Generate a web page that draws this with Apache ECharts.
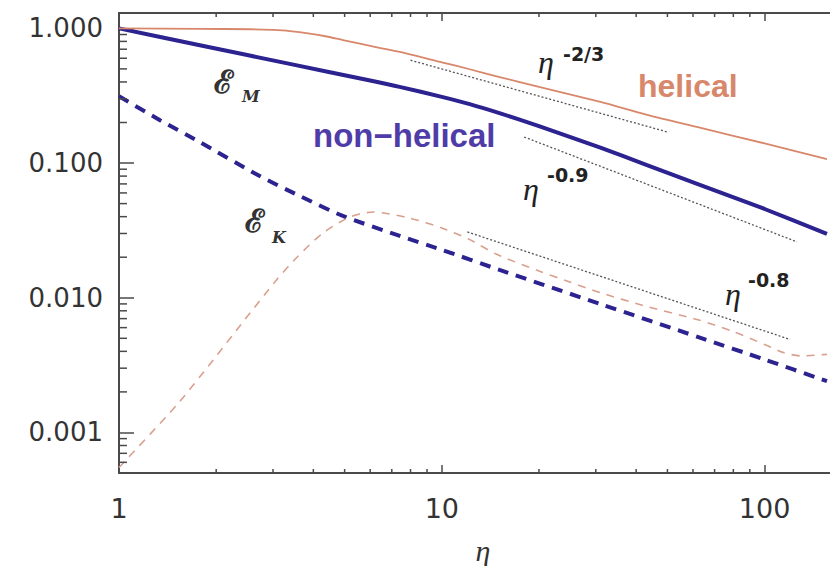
<!DOCTYPE html>
<html><head><meta charset="utf-8">
<script src="https://cdn.jsdelivr.net/npm/echarts@6/dist/echarts.min.js"></script>
<style>html,body{margin:0;padding:0;background:#fff}#c{width:830px;height:566px}</style>
</head><body><div id="c"></div>
<script>
// ---- data (eta, energy) ----
const helicalEM = [[1,1.0],[1.78,0.992],[2.54,0.985],[3.0,0.973],[3.38,0.955],[3.9,0.915],[4.4,0.87],[4.94,0.818],[6.3,0.723],[7.96,0.642],[10,0.56],[12.2,0.497],[15,0.437],[20,0.367],[31,0.284],[43,0.229],[63,0.183],[100,0.14],[156,0.107]];
const nonHelicalEM = [[1,1.0],[1.78,0.75],[3.38,0.545],[6,0.41],[7.4,0.368],[10,0.31],[12.2,0.274],[15,0.236],[20,0.188],[31,0.13],[43,0.097],[63,0.069],[100,0.0456],[156,0.0298]];
const nonHelicalEK = [[1,0.313],[1.34,0.208],[1.78,0.143],[2.73,0.080],[3.63,0.057],[4.94,0.0405],[7.41,0.0288],[10,0.0227],[15.1,0.0161],[30.8,0.00903],[63,0.00506],[100,0.00348],[156,0.0024]];
const helicalEK = [[1,0.00055],[1.51,0.0016],[1.91,0.0032],[2.42,0.0066],[3.08,0.0136],[3.56,0.02],[4.28,0.0302],[5.19,0.0397],[6.12,0.0433],[7.96,0.039],[10,0.033],[12.2,0.027],[14.8,0.021],[20,0.0158],[24.9,0.0131],[31,0.0109],[41.8,0.0088],[63,0.0068],[80,0.0056],[100,0.0045],[115,0.0039],[130,0.0037],[156,0.0038]];
const fitTwoThirds = [[8,0.58],[50,0.17]];
const fitNinePoint = [[18,0.156],[126,0.026]];
const fitEightPoint = [[12,0.0308],[120,0.0049]];
const xRange = [1, 180];
const yRange = [0.0005, 1.3];
const xMinorTicks = [2,3,4,5,6,7,8,9,20,30,40,50,60,70,80,90];
const yMinorTicks = [0.0006,0.0007,0.0008,0.0009,0.002,0.003,0.004,0.005,0.006,0.007,0.008,0.009,0.02,0.03,0.04,0.05,0.06,0.07,0.08,0.09,0.2,0.3,0.4,0.5,0.6,0.7,0.8,0.9];

const AX = '#4a4a4a';
const BLUE = '#2c2290';
const SALMON = '#d8876b';
const SALMON_D = '#d9a08e';
const DOT = '#555';

const chart = echarts.init(document.getElementById('c'), null, {renderer: 'svg'});

function lineSeries(data, color, width, type, z, smooth) {
  return {type: 'line', data: data, symbol: 'none', smooth: smooth === undefined ? 0.25 : smooth, z: z || 2,
    lineStyle: {color: color, width: width, type: type}, silent: true, animation: false};
}

const numFont = 'DejaVu Sans';

chart.setOption({
  animation: false,
  grid: {left: 119, top: 13, width: 728, bottom: 93, outerBoundsMode: 'none', containLabel: false},
  xAxis: [{
    type: 'log', logBase: 10, min: xRange[0], max: xRange[1], position: 'bottom',
    name: 'η', nameLocation: 'middle', nameGap: 62,
    nameTextStyle: {fontFamily: 'Liberation Serif', fontStyle: 'italic', fontSize: 30, color: '#333'},
    axisLine: {lineStyle: {color: AX, width: 2}},
    axisTick: {inside: true, length: 8, lineStyle: {color: AX, width: 1.5}},
    axisLabel: {margin: 22, fontFamily: numFont, fontSize: 27, color: '#333', showMaxLabel: false,
      formatter: v => String(Math.round(v))},
    splitLine: {show: false}
  }, {
    type: 'log', logBase: 10, min: xRange[0], max: xRange[1], position: 'top',
    axisLine: {lineStyle: {color: AX, width: 2}},
    axisTick: {inside: true, length: 8, lineStyle: {color: AX, width: 1.5}},
    axisLabel: {show: false}, splitLine: {show: false}
  }],
  yAxis: [{
    type: 'log', logBase: 10, min: yRange[0], max: yRange[1],
    axisLine: {lineStyle: {color: AX, width: 2}},
    axisTick: {inside: true, length: 15, lineStyle: {color: AX, width: 1.5}},
    axisLabel: {margin: 16, fontFamily: numFont, fontSize: 26, color: '#333',
      showMinLabel: false, showMaxLabel: false, formatter: v => v.toFixed(3)},
    splitLine: {show: false}
  }],
  series: [
    lineSeries(nonHelicalEK, BLUE, 4, [11, 8], 3),
    lineSeries(helicalEK, SALMON_D, 1.6, [8, 7], 4),
    lineSeries(helicalEM, SALMON, 1.8, 'solid', 4),
    lineSeries(nonHelicalEM, BLUE, 4, 'solid', 3),
    lineSeries(fitTwoThirds, DOT, 1.3, [2, 2], 2, false),
    lineSeries(fitNinePoint, DOT, 1.3, [2, 2], 2, false),
    lineSeries(fitEightPoint, DOT, 1.3, [2, 2], 2, false),
    {
      type: 'custom', silent: true, z: 10, clip: false,
      data: yMinorTicks.map(v => [xRange[0], v]),
      renderItem: function (params, api) {
        const p = api.coord([api.value(0), api.value(1)]);
        return {type: 'line', shape: {x1: p[0], y1: p[1], x2: p[0] + 8, y2: p[1]},
          style: {stroke: AX, lineWidth: 1.5}};
      }
    },
    {
      type: 'custom', silent: true, z: 10, clip: false,
      data: xMinorTicks.map(v => [v, yRange[0]]),
      renderItem: function (params, api) {
        const b = api.coord([api.value(0), yRange[0]]);
        const t = api.coord([api.value(0), yRange[1]]);
        return {type: 'group', children: [
          {type: 'line', shape: {x1: b[0], y1: b[1], x2: b[0], y2: b[1] - 4}, style: {stroke: AX, lineWidth: 1.5}},
          {type: 'line', shape: {x1: t[0], y1: t[1], x2: t[0], y2: t[1] + 4}, style: {stroke: AX, lineWidth: 1.5}}
        ]};
      }
    }
  ],
  graphic: [
    {type: 'text', x: 214, y: 82, style: {text: 'ℰ', font: 'bold 32px "DejaVu Serif"', fill: '#333', textVerticalAlign: 'middle'}},
    {type: 'text', x: 242, y: 96, style: {text: 'M', font: 'italic bold 16px "DejaVu Serif"', fill: '#333', textVerticalAlign: 'middle'}},
    {type: 'text', x: 245, y: 221, style: {text: 'ℰ', font: 'bold 32px "DejaVu Serif"', fill: '#333', textVerticalAlign: 'middle'}},
    {type: 'text', x: 272, y: 237, style: {text: 'K', font: 'italic bold 16px "DejaVu Serif"', fill: '#333', textVerticalAlign: 'middle'}},
    {type: 'text', x: 313, y: 135, style: {text: 'non−helical', font: 'bold 33px "Liberation Sans"', fill: '#4f3ca8', textVerticalAlign: 'middle'}},
    {type: 'text', x: 638, y: 86, style: {text: 'helical', font: 'bold 32px "Liberation Sans"', fill: SALMON, textVerticalAlign: 'middle'}},
    {type: 'text', x: 538, y: 62, style: {text: 'η', font: 'italic 32px "Liberation Serif"', fill: '#222', textVerticalAlign: 'middle'}},
    {type: 'text', x: 563, y: 54, style: {text: '-2/3', font: 'bold 19px "DejaVu Sans"', fill: '#222', textVerticalAlign: 'middle'}},
    {type: 'text', x: 523, y: 189, style: {text: 'η', font: 'italic 32px "Liberation Serif"', fill: '#222', textVerticalAlign: 'middle'}},
    {type: 'text', x: 547, y: 175, style: {text: '-0.9', font: 'bold 19px "DejaVu Sans"', fill: '#222', textVerticalAlign: 'middle'}},
    {type: 'text', x: 725, y: 294, style: {text: 'η', font: 'italic 32px "Liberation Serif"', fill: '#222', textVerticalAlign: 'middle'}},
    {type: 'text', x: 748, y: 280, style: {text: '-0.8', font: 'bold 19px "DejaVu Sans"', fill: '#222', textVerticalAlign: 'middle'}}
  ]
});
</script>
</body></html>
